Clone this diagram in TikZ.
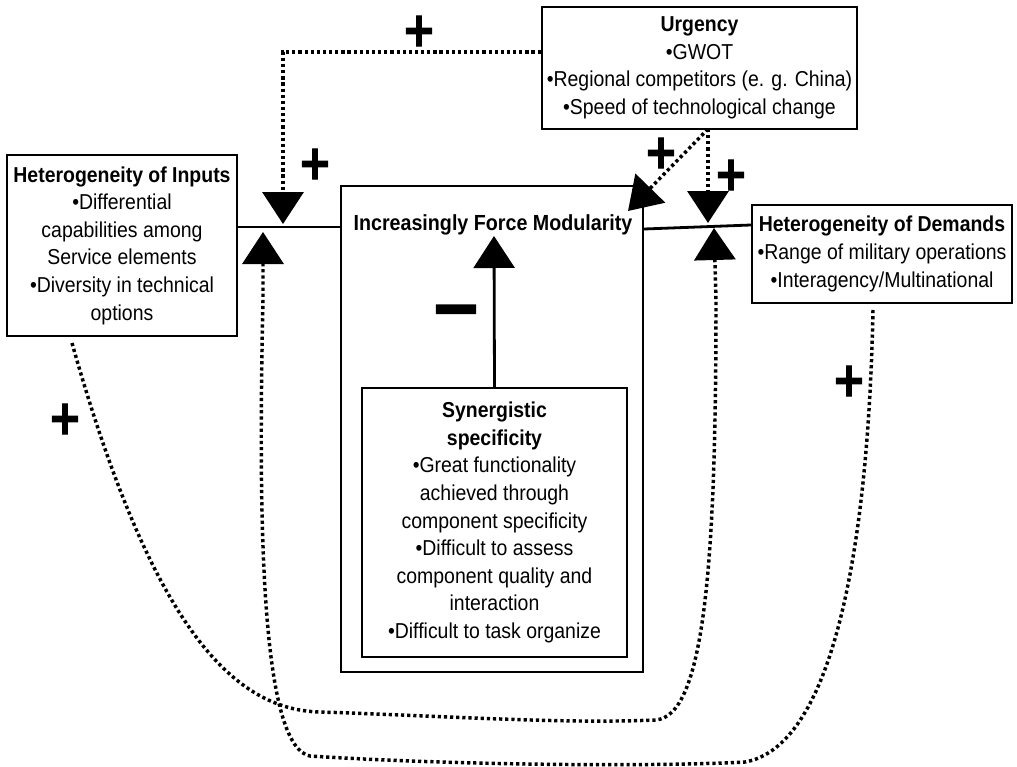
\documentclass[tikz,border=0pt]{standalone}
\usepackage{fontspec}
\setmainfont[FakeStretch=0.9]{Liberation Sans}
\newfontfamily\signfont[FakeBold=2.5]{DejaVu Sans Bold}
\usetikzlibrary{arrows.meta}
\begin{document}
\begin{tikzpicture}[x=0.75pt,y=-0.75pt,
 txt/.style={font=\fontsize{16.2}{20.7}\selectfont},
 box/.style={draw,line width=1.8pt,align=center,inner sep=0pt,txt},
 conn/.style={line width=2.1pt},
 dotl/.style={line width=2.6pt,dash pattern=on 2.4pt off 2.2pt},
 sign/.style={font=\signfont\fontsize{30}{30}\selectfont,inner sep=0pt},
 tri/.tip={Triangle[width=30.75pt,length=24pt]}
]
\useasboundingbox (0,0) rectangle (1017,767);

% boxes
\node[box,minimum width=236.25pt,minimum height=91.5pt] (urg) at (699.5,68)
 {\textbf{Urgency}\\•GWOT\\•Regional competitors (e. g. China)\\•Speed of technological change};
\node[box,minimum width=172.5pt,minimum height=135.75pt] (inp) at (122,245.5)
 {\textbf{Heterogeneity of Inputs}\\•Differential\\capabilities among\\Service elements\\•Diversity in technical\\options};
\node[box,minimum width=226.5pt,minimum height=364.5pt] (mod) at (492,429) {};
\node[txt,font=\fontsize{16.4}{20.7}\selectfont\bfseries,inner sep=0pt] (modt) at (493,225) {Increasingly Force Modularity};
\node[box,minimum width=198.75pt,minimum height=201.75pt] (syn) at (494.5,522.5)
 {\textbf{Synergistic}\\\textbf{specificity}\\•Great functionality\\achieved through\\component specificity\\•Difficult to assess\\component quality and\\interaction\\•Difficult to task organize};
\node[box,minimum width=195pt,minimum height=73.5pt] (dem) at (882,254)
 {\textbf{Heterogeneity of Demands}\\•Range of military operations\\•Interagency/Multinational};

% junction coordinates
\coordinate (jL) at (283,227);
\coordinate (rA) at (643,229);
\coordinate (rB) at (752,225);
\coordinate (tT) at (283,52);
\coordinate (aL1) at (283,224);
\coordinate (aL2) at (263,232);
\coordinate (uB) at (708,129);
\coordinate (aR1) at (708,223);
\coordinate (aR2) at (714,228);
\coordinate (aD) at (628,211);
\coordinate (aM) at (494,236);
\coordinate (c1) at (72,343);
\coordinate (c2) at (873,310);

% solid connectors
\draw[conn] (inp.east |- jL) -- (mod.west |- jL);
\draw[conn] (mod.east |- rA) -- (dem.west |- rB);
\draw[conn,-{tri}] (syn.north) -- (aM);

% dotted connectors from urgency
\draw[dotl,-{tri}] (urg.west |- tT) -- (tT) -- (aL1);
\draw[dotl,-{tri}] (uB) -- (aD);
\draw[dotl,-{tri}] (uB) -- (aR1);

% feedback curves
\draw[dotl,-{tri}] (c1) .. controls (150,620) and (230,710) .. (320,712)
  .. controls (450,716) and (560,724) .. (655,720)
  .. controls (705,718) and (716,560) .. (716,300) -- (aR2);
\draw[dotl,-{tri}] (c2) .. controls (868,560) and (830,747) .. (745,762)
  .. controls (650,767) and (450,765) .. (310,756)
  .. controls (265,747) and (257,560) .. (263,300) -- (aL2);

% signs
\node[sign] (p1) at (419,31) {\scalebox{1}[1.2]{+}};
\node[sign] (p2) at (315,164) {\scalebox{1}[1.2]{+}};
\node[sign] (p3) at (661,153) {\scalebox{1}[1.2]{+}};
\node[sign] (p4) at (731,175) {\scalebox{1}[1.2]{+}};
\node[sign] (p5) at (65,419) {\scalebox{1}[1.2]{+}};
\node[sign] (p6) at (849,381) {\scalebox{1}[1.2]{+}};
\node[sign] (m1) at (456,316) {\scalebox{1.1}[1.6]{—}};
\end{tikzpicture}
\end{document}
